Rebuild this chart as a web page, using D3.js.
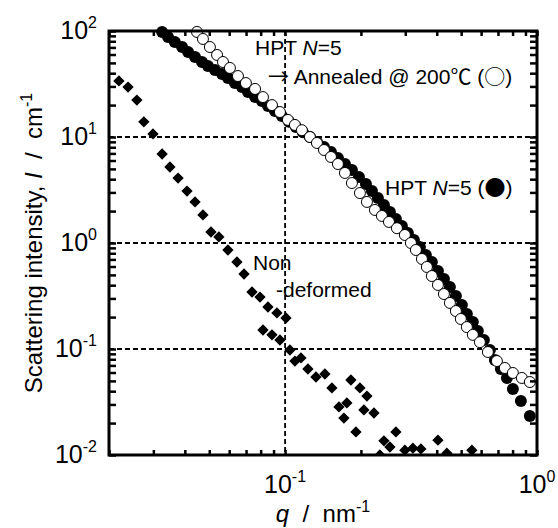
<!DOCTYPE html>
<html>
<head>
<meta charset="utf-8">
<script src="https://cdn.jsdelivr.net/npm/d3@7"></script>
<style>
  body { margin: 0; background: #fff; }
  svg { font-family: Arial, "Liberation Sans", sans-serif; }
  text { white-space: pre; }
  .cjk { font-family: "Noto Sans CJK JP", sans-serif; }
</style>
</head>
<body>
<div id="chart"></div>
<script>
'use strict';

// HPT N=5 (filled circles): q [nm^-1], I [cm^-1]
const hptQ = [0.0325, 0.0343, 0.0365, 0.0390, 0.0412, 0.0439, 0.0468, 0.0494, 0.0527, 0.0562,
	0.0593, 0.0632, 0.0674, 0.0712, 0.0760, 0.0809, 0.0855, 0.0911, 0.0971, 0.1036,
	0.1104, 0.1177, 0.1255, 0.1338, 0.1427, 0.1521, 0.1621, 0.1728, 0.1842, 0.1964,
	0.2094, 0.2212, 0.2336, 0.2468, 0.2607, 0.2754, 0.2909, 0.3073, 0.3246, 0.3428,
	0.3621, 0.3825, 0.4043, 0.4271, 0.4511, 0.4764, 0.5032, 0.5267, 0.5563, 0.5824,
	0.6153, 0.6500, 0.6804, 0.7188, 0.7595, 0.8021, 0.8630, 0.9367];
const hptI = [98, 87.8, 78.7, 70.6, 63.4, 56.8, 51.0, 46.8, 42.9, 39.3,
	36.0, 32.3, 29.6, 26.6, 23.8, 21.9, 19.6, 17.6, 15.8, 13.9,
	12.4, 11.1, 10.0, 8.97, 8.05, 7.22, 6.34, 5.56, 4.88, 4.19,
	3.60, 3.09, 2.66, 2.28, 1.96, 1.68, 1.45, 1.24, 1.07, 0.917,
	0.770, 0.662, 0.544, 0.457, 0.385, 0.316, 0.260, 0.214, 0.180, 0.148,
	0.1216, 0.0979, 0.0787, 0.0648, 0.0533, 0.0419, 0.0323, 0.0233];

// HPT N=5 -> annealed at 200 C (open circles)
const annQ = [0.0447, 0.0472, 0.0503, 0.0537, 0.0567, 0.0604, 0.0650, 0.0699, 0.0760, 0.0817,
	0.0887, 0.0954, 0.1026, 0.1094, 0.1166, 0.1255, 0.1338, 0.1427, 0.1521, 0.1621,
	0.1728, 0.1842, 0.1982, 0.2113, 0.2273, 0.2422, 0.2584, 0.2779, 0.2989, 0.3158,
	0.3306, 0.3493, 0.3655, 0.3825, 0.4043, 0.4271, 0.4511, 0.4764, 0.4985, 0.5267,
	0.5563, 0.5932, 0.6383, 0.6931, 0.7455, 0.8021, 0.8707, 0.9367];
const annI = [97.9, 84.1, 70.6, 59.4, 51.0, 44.8, 37.6, 32.3, 28.4, 23.8,
	20.0, 17.2, 14.5, 13.0, 11.6, 10.0, 8.78, 7.54, 6.48, 5.56,
	4.58, 3.68, 2.96, 2.44, 2.05, 1.80, 1.58, 1.38, 1.19, 1.0,
	0.859, 0.707, 0.594, 0.488, 0.402, 0.330, 0.272, 0.228, 0.192, 0.161,
	0.136, 0.116, 0.0937, 0.0770, 0.0662, 0.0594, 0.0533, 0.0488];

// non-deformed (diamonds)
const nonQ = [0.0219, 0.0238, 0.0258, 0.0275, 0.0299, 0.0325, 0.0349, 0.0376, 0.0408, 0.0439,
	0.0472, 0.0508, 0.0546, 0.0593, 0.0644, 0.0687, 0.0739, 0.0795, 0.0855, 0.0928,
	0.1008, 0.0817, 0.0887, 0.0954, 0.1045, 0.1094, 0.1156, 0.1232, 0.1326, 0.1439,
	0.1534, 0.1825, 0.1982, 0.2113, 0.1636, 0.1759, 0.1712, 0.2055, 0.2253, 0.1911,
	0.2754, 0.2468, 0.2607, 0.2378, 0.2989, 0.3217, 0.3460, 0.4043, 0.4388, 0.5514];
const nonI = [33.8, 29.6, 22.3, 13.9, 10.7, 6.91, 5.21, 4.10, 3.09, 2.44,
	1.84, 1.27, 1.14, 0.859, 0.662, 0.510, 0.345, 0.309, 0.249, 0.219,
	0.196, 0.151, 0.136, 0.1216, 0.0979, 0.0770, 0.0823, 0.0648, 0.0544, 0.0581,
	0.0429, 0.0510, 0.0429, 0.0360, 0.0284, 0.0310, 0.0223, 0.0266, 0.0249, 0.0165,
	0.0165, 0.0136, 0.0119, 0.0100, 0.0111, 0.0116, 0.0114, 0.0138, 0.0104, 0.0111];

const xDomain = [0.02, 1];
const yDomain = [0.01, 100];
const xGrid = [0.1];
const yGrid = [0.1, 1, 10];
const xLabels = [[0.1, "-1"], [1, "0"]];
const yLabels = [[100, "2"], [10, "1"], [1, "0"], [0.1, "-1"], [0.01, "-2"]];

const W = 558, H = 528;
const margin = {top: 31, right: 21, bottom: 73, left: 109};
const iw = W - margin.left - margin.right;
const ih = H - margin.top - margin.bottom;

const svg = d3.select("#chart").append("svg")
	.attr("width", W)
	.attr("height", H);

const g = svg.append("g")
	.attr("transform", `translate(${margin.left},${margin.top})`);

const x = d3.scaleLog().domain(xDomain).range([0, iw]);
const y = d3.scaleLog().domain(yDomain).range([ih, 0]);

g.append("clipPath").attr("id", "clip")
	.append("rect").attr("width", iw).attr("height", ih);

// dashed grid
g.selectAll("line.hgrid")
	.data(yGrid)
	.enter()
	.append("line")
	.attr("x1", 0).attr("x2", iw)
	.attr("y1", d => y(d)).attr("y2", d => y(d))
	.attr("stroke", "#000").attr("stroke-width", 1.8)
	.attr("stroke-dasharray", "5,3");

g.selectAll("line.vgrid")
	.data(xGrid)
	.enter()
	.append("line")
	.attr("y1", 0).attr("y2", ih)
	.attr("x1", d => x(d)).attr("x2", d => x(d))
	.attr("stroke", "#000").attr("stroke-width", 1.8)
	.attr("stroke-dasharray", "5,3");

// non-deformed
const diamond = d3.symbol().type(d3.symbolSquare).size(64);
g.append("g").attr("clip-path", "url(#clip)")
	.selectAll("path")
	.data(d3.zip(nonQ, nonI))
	.enter()
	.append("path")
	.attr("d", diamond)
	.attr("transform", d => `translate(${x(d[0])},${y(d[1])}) rotate(45)`)
	.attr("fill", "#000");

// HPT N=5
g.append("g").selectAll("circle")
	.data(d3.zip(hptQ, hptI))
	.enter()
	.append("circle")
	.attr("cx", d => x(d[0]))
	.attr("cy", d => y(d[1]))
	.attr("r", 6)
	.attr("fill", "#000");

// annealed
g.append("g").selectAll("circle")
	.data(d3.zip(annQ, annI))
	.enter()
	.append("circle")
	.attr("cx", d => x(d[0]))
	.attr("cy", d => y(d[1]))
	.attr("r", 5.5)
	.attr("fill", "#fff")
	.attr("stroke", "#000")
	.attr("stroke-width", 1);

// ticks, all pointing inward
const axisStyle = sel => {
	sel.select(".domain").remove();
	sel.selectAll(".tick line").attr("stroke", "#000").attr("stroke-width", 2.5);
	sel.selectAll(".tick text").remove();
};
g.append("g").call(d3.axisLeft(y).tickSize(-7)).call(axisStyle);
g.append("g").attr("transform", `translate(${iw},0)`)
	.call(d3.axisRight(y).tickSize(-7)).call(axisStyle);
g.append("g").call(d3.axisTop(x).tickSize(-5)).call(axisStyle);
g.append("g").attr("transform", `translate(0,${ih})`)
	.call(d3.axisBottom(x).tickSize(-5)).call(axisStyle);

// frame
g.append("rect")
	.attr("width", iw).attr("height", ih)
	.attr("fill", "none")
	.attr("stroke", "#000")
	.attr("stroke-width", 3);

// tick labels
const yl = g.selectAll("text.ylab")
	.data(yLabels)
	.enter()
	.append("text")
	.attr("x", -12)
	.attr("y", d => y(d[0]) + 8)
	.attr("text-anchor", "end")
	.attr("font-size", 25);
yl.append("tspan").text("10");
yl.append("tspan").attr("dy", -11).attr("font-size", 16).text(d => d[1]);

const xl = g.selectAll("text.xlab")
	.data(xLabels)
	.enter()
	.append("text")
	.attr("x", d => x(d[0]))
	.attr("y", ih + 38)
	.attr("text-anchor", "middle")
	.attr("font-size", 25);
xl.append("tspan").text("10");
xl.append("tspan").attr("dy", -11).attr("font-size", 16).text(d => d[1]);

// axis titles
const xt = g.append("text")
	.attr("x", iw / 2)
	.attr("y", ih + 67)
	.attr("text-anchor", "middle")
	.attr("font-size", 24);
xt.append("tspan").attr("font-style", "italic").text("q");
xt.append("tspan").text("  /  nm");
xt.append("tspan").attr("dy", -10).attr("font-size", 16).text("-1");

const yt = svg.append("text")
	.attr("transform", `translate(42,${margin.top + ih / 2}) rotate(-90)`)
	.attr("text-anchor", "middle")
	.attr("font-size", 24);
yt.append("tspan").text("Scattering intensity, ");
yt.append("tspan").attr("font-style", "italic").text("I");
yt.append("tspan").text("  /  cm");
yt.append("tspan").attr("dy", -10).attr("font-size", 16).text("-1");

// annotations: [text, italic, cjk glyph]
const note = (px, py, parts) => {
	const t = svg.append("text")
		.attr("x", px).attr("y", py)
		.attr("font-size", 21);
	parts.forEach(p => t.append("tspan")
		.attr("font-style", p[1] ? "italic" : null)
		.attr("class", p[2] ? "cjk" : null)
		.text(p[0]));
};
note(255, 55, [["HPT "], ["N", true], ["=5"]]);
note(268, 84, [["→", false, true], [" Annealed @ 200"], ["℃", false, true], [" ("], ["○", false, true], [")"]]);
note(385, 195, [["HPT "], ["N", true], ["=5 ("], ["●", false, true], [")"]]);
note(253, 270, [["Non"]]);
note(276, 297, [["-deformed"]]);
</script>
</body>
</html>
